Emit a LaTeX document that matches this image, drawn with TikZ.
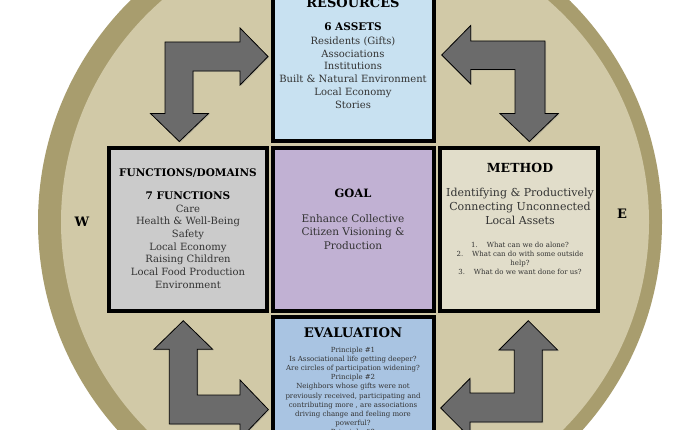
\documentclass[tikz,border=0pt]{standalone}
\usepackage{fontspec}
\setmainfont{DejaVu Serif}
\usetikzlibrary{shadows}
\definecolor{ringc}{HTML}{A89D6E}
\definecolor{discc}{HTML}{D1C9A7}
\definecolor{resc}{HTML}{C8E1F1}
\definecolor{funcc}{HTML}{CBCBCB}
\definecolor{goalc}{HTML}{C1B1D3}
\definecolor{methc}{HTML}{E1DDCA}
\definecolor{evalc}{HTML}{A9C4E2}
\definecolor{arrc}{HTML}{6B6B6B}
\definecolor{txt}{HTML}{333333}
\tikzset{
  box/.style={draw=black, line width=4pt, rectangle, inner sep=0pt, outer sep=0pt},
  bigarrow/.style={fill=arrc, draw=black, line width=0.8pt, line join=miter,
     drop shadow={opacity=0.35, shadow xshift=1pt, shadow yshift=-1pt}},
  ttl/.style={font=\bfseries\fontsize{#1}{#1}\selectfont, text=black, inner sep=0pt},
  body/.style={text=txt, inner sep=0pt, align=center, anchor=north},
  compass/.style={font=\bfseries\fontsize{13}{13}\selectfont, text=black, inner sep=0pt}
}
\begin{document}
\begin{tikzpicture}[x=1pt,y=-1pt]
\useasboundingbox (0,0) rectangle (700,430);
\clip (0,0) rectangle (700,430);
\fill[white] (0,0) rectangle (700,430);
\fill[ringc] (350,222) circle (312);
\fill[discc] (355,222) circle (294);

% arrows
\path[bigarrow] (165,42) -- (240,42) -- (240,28) -- (268,56.5) -- (240,85) -- (240,71) -- (193,71) -- (193,113.5) -- (208.5,113.5) -- (179.3,141.5) -- (150.5,113.5) -- (165,113.5) -- cycle;
\path[bigarrow] (545,41) -- (470.7,41) -- (470.7,25.5) -- (441.7,55) -- (470.7,84) -- (470.7,69.5) -- (515,69.5) -- (515,113.5) -- (500,113.5) -- (529.3,141.5) -- (558.3,113.5) -- (545,113.5) -- cycle;
\path[bigarrow] (169.3,424) -- (169.3,349.3) -- (154,349.3) -- (183.3,320.7) -- (212.7,349.3) -- (197.3,349.3) -- (197.3,395) -- (240,395) -- (240,380) -- (268.3,409.5) -- (240,439) -- (240,424) -- cycle;
\path[bigarrow] (542.3,422) -- (542.3,350) -- (557.6,350) -- (528.3,320.7) -- (499,350) -- (514.3,350) -- (514.3,393) -- (470,393) -- (470,378.5) -- (440.7,408) -- (470,437.5) -- (470,422) -- cycle;

% boxes
\node[box, fill=resc, minimum width=161pt, minimum height=179pt] (res) at (353.5,51.5) {};
\node[box, fill=funcc, minimum width=158pt, minimum height=163pt] (func) at (188,229.5) {};
\node[box, fill=goalc, minimum width=161pt, minimum height=163pt] (goal) at (353.5,229.5) {};
\node[box, fill=methc, minimum width=158pt, minimum height=163pt] (meth) at (519,229.5) {};
\node[box, fill=evalc, minimum width=161pt, minimum height=153pt] (eval) at (353.5,393.5) {};

% resources text
\node[ttl=13] (resT) at (353,3) {RESOURCES};
\node[ttl=10.5] (resS) at (353,27) {6 ASSETS};
\node[body, font=\fontsize{10}{12.8}\selectfont] (resL) at (353,36.5) {Residents (Gifts)\\Associations\\Institutions\\Built \& Natural Environment\\Local Economy\\Stories};

% functions text
\node[ttl=10.5] (funT) at (188,173) {FUNCTIONS/DOMAINS};
\node[ttl=10.5] (funS) at (188,196) {7 FUNCTIONS};
\node[body, font=\fontsize{10}{12.7}\selectfont] (funL) at (188,204.5) {Care\\Health \& Well-Being\\Safety\\Local Economy\\Raising Children\\Local Food Production\\Environment};

% goal text
\node[ttl=11.5] (goalT) at (353,193) {GOAL};
\node[body, font=\fontsize{10.5}{13.5}\selectfont] (goalL) at (353,214) {Enhance Collective\\Citizen Visioning \&\\Production};

% method text
\node[ttl=12.5] (methT) at (520,168) {METHOD};
\node[body, font=\fontsize{11}{14}\selectfont] (methL) at (520,188) {Identifying \& Productively\\Connecting Unconnected\\Local Assets};
\node[body, font=\fontsize{7}{9.3}\selectfont] (methQ) at (520,241.5) {1.\hspace{9pt}What can we do alone?\\2.\hspace{9pt}What can do with some outside\\help?\\3.\hspace{9pt}What do we want done for us?};

% evaluation text
\node[ttl=13.2] (evalT) at (353,333) {EVALUATION};
\node[body, font=\fontsize{7}{9.2}\selectfont] (evalL) at (353,346.5) {Principle \#1\\Is Associational life getting deeper?\\Are circles of participation widening?\\Principle \#2\\Neighbors whose gifts were not\\previously received, participating and\\contributing more , are associations\\driving change and feeling more\\powerful?\\Principle \#3};

% compass
\node[compass] (W) at (82,222) {W};
\node[compass] (E) at (622,214) {E};
\end{tikzpicture}
\end{document}
